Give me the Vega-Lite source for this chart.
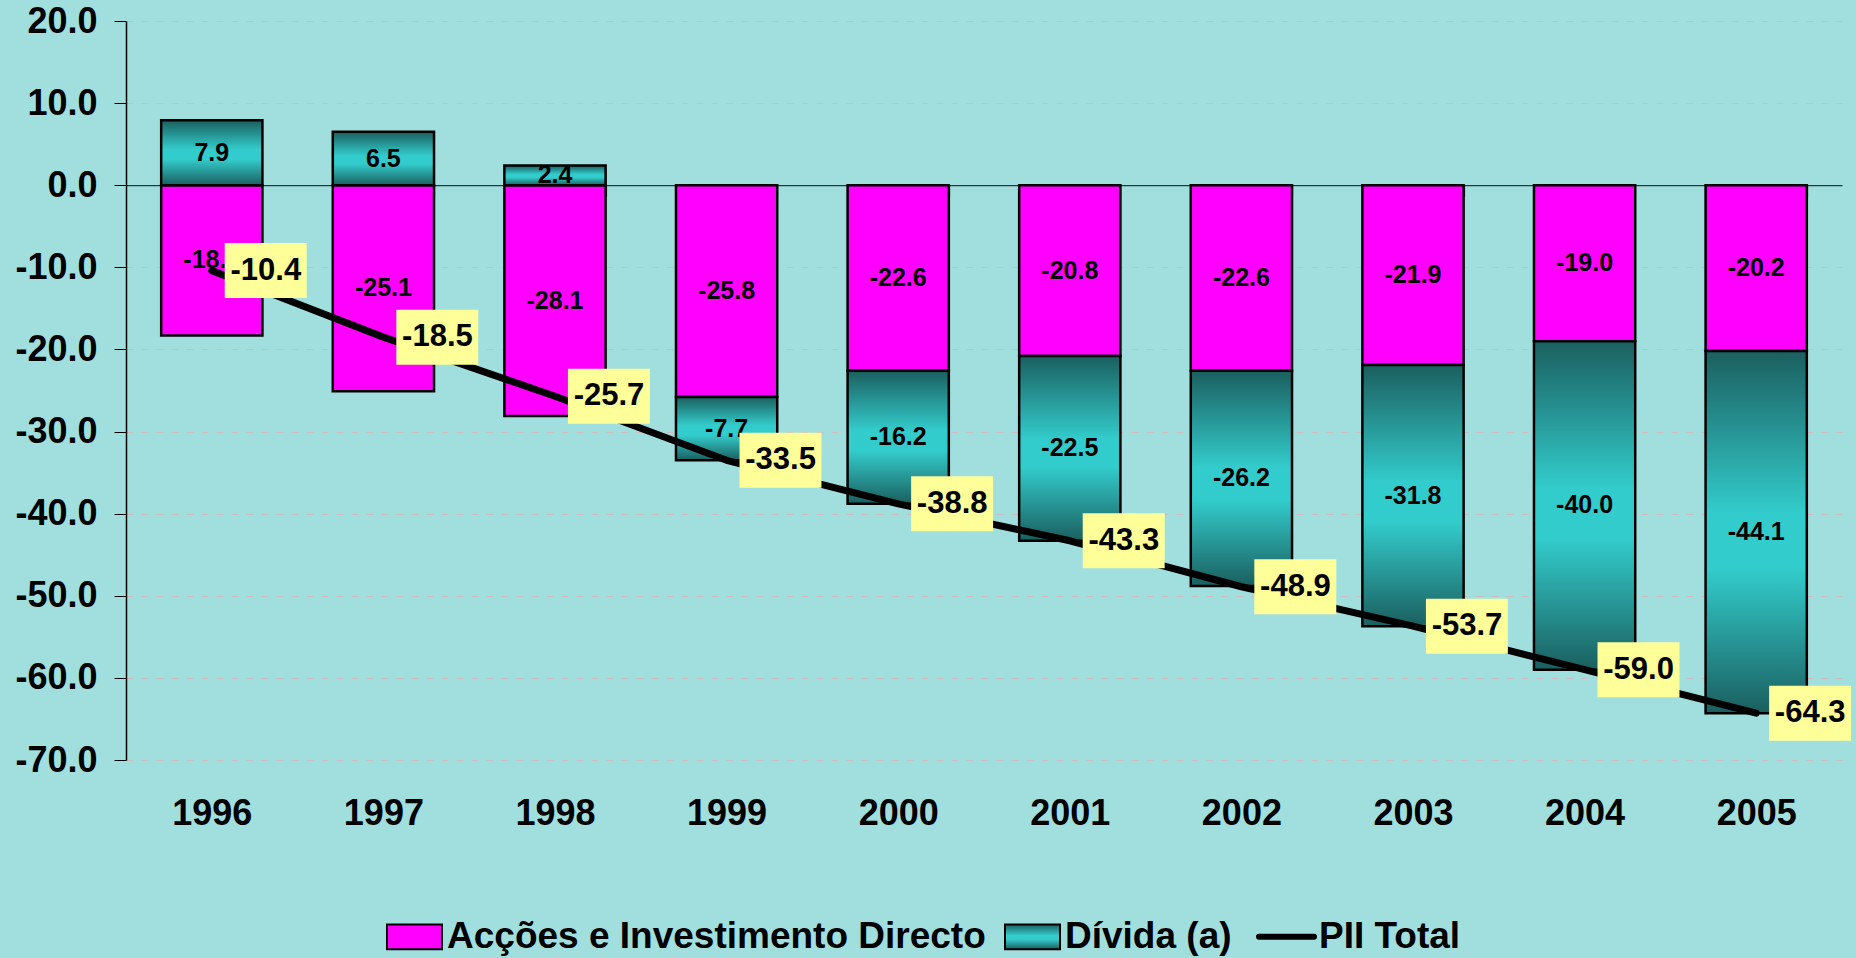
{
  "$schema": "https://vega.github.io/schema/vega-lite/v6.json",
  "width": 1716,
  "height": 739,
  "autosize": {"type": "none"},
  "padding": {"left": 126, "top": 21, "right": 14, "bottom": 198},
  "background": "#A1DFDF",
  "config": {
    "view": {"stroke": null},
    "font": "Liberation Sans",
    "locale": {"number": {"decimal": ".", "thousands": ",", "grouping": [3], "currency": ["", ""], "minus": "-"}},
    "axis": {"labelFont": "Liberation Sans", "labelFontWeight": "bold", "labelColor": "#000000"}
  },
  "datasets": {
    "parts": [
      {"year": "1996", "series": "Acções e Investimento Directo", "value": -18.3},
      {"year": "1996", "series": "Dívida (a)", "value": 7.9},
      {"year": "1997", "series": "Acções e Investimento Directo", "value": -25.1},
      {"year": "1997", "series": "Dívida (a)", "value": 6.5},
      {"year": "1998", "series": "Acções e Investimento Directo", "value": -28.1},
      {"year": "1998", "series": "Dívida (a)", "value": 2.4},
      {"year": "1999", "series": "Acções e Investimento Directo", "value": -25.8},
      {"year": "1999", "series": "Dívida (a)", "value": -7.7},
      {"year": "2000", "series": "Acções e Investimento Directo", "value": -22.6},
      {"year": "2000", "series": "Dívida (a)", "value": -16.2},
      {"year": "2001", "series": "Acções e Investimento Directo", "value": -20.8},
      {"year": "2001", "series": "Dívida (a)", "value": -22.5},
      {"year": "2002", "series": "Acções e Investimento Directo", "value": -22.6},
      {"year": "2002", "series": "Dívida (a)", "value": -26.2},
      {"year": "2003", "series": "Acções e Investimento Directo", "value": -21.9},
      {"year": "2003", "series": "Dívida (a)", "value": -31.8},
      {"year": "2004", "series": "Acções e Investimento Directo", "value": -19.0},
      {"year": "2004", "series": "Dívida (a)", "value": -40.0},
      {"year": "2005", "series": "Acções e Investimento Directo", "value": -20.2},
      {"year": "2005", "series": "Dívida (a)", "value": -44.1}
    ],
    "total": [
      {"year": "1996", "total": -10.4},
      {"year": "1997", "total": -18.5},
      {"year": "1998", "total": -25.7},
      {"year": "1999", "total": -33.5},
      {"year": "2000", "total": -38.8},
      {"year": "2001", "total": -43.3},
      {"year": "2002", "total": -48.9},
      {"year": "2003", "total": -53.7},
      {"year": "2004", "total": -59.0},
      {"year": "2005", "total": -64.3}
    ]
  },
  "encoding": {
    "x": {
      "field": "year",
      "type": "nominal",
      "scale": {"paddingInner": 0.41, "paddingOuter": 0.205},
      "axis": {
        "title": null,
        "orient": "bottom",
        "offset": -574.8,
        "domainColor": "#333333",
        "domainWidth": 1.2,
        "tickBand": "extent",
        "tickSize": 11,
        "tickColor": "#333333",
        "tickWidth": 1.2,
        "labelFontSize": 36,
        "labelPadding": 600,
        "labelAngle": 0,
        "grid": false,
        "zindex": 0
      }
    }
  },
  "layer": [
    {
      "data": {"name": "parts"},
      "mark": {"type": "bar", "stroke": "#000000", "strokeWidth": 2.5},
      "encoding": {
        "y": {
          "field": "value",
          "type": "quantitative",
          "stack": "zero",
          "scale": {"domain": [-70, 20], "nice": false, "zero": false},
          "axis": {"title": null, "values": [20, 10, 0, -10, -20, -30, -40, -50, -60, -70], "format": ".1f", "labelFontSize": 36, "labelPadding": 17, "tickSize": 12, "tickColor": "#000000", "domainColor": "#000000", "domainWidth": 1.5, "grid": true, "gridColor": "#CDBDBD", "gridDash": [7, 8], "gridWidth": 1}
        },
        "color": {
          "field": "series",
          "type": "nominal",
          "scale": {
            "domain": ["Acções e Investimento Directo", "Dívida (a)", "PII Total"],
            "range": [
              "#FF00FF",
              {"expr": "{gradient: 'linear', x1: 0, y1: 0, x2: 0, y2: 1, stops: [{offset: 0, color: '#1B5F5F'}, {offset: 0.45, color: '#33CCCC'}, {offset: 0.6, color: '#33CCCC'}, {offset: 1, color: '#1B5F5F'}]}"},
              "#000000"
            ]
          },
          "legend": {
            "title": null,
            "orient": "none",
            "legendX": 270,
            "legendY": 897,
            "direction": "horizontal",
            "labelFont": "Liberation Sans",
            "labelFontSize": 37,
            "labelFontWeight": "bold",
            "labelColor": "#000000",
            "labelLimit": 0,
            "labelOffset": 14,
            "columnPadding": 15,
            "symbolSize": 3025,
            "symbolStrokeColor": "#000000",
            "symbolStrokeWidth": 2,
            "encode": {
              "symbols": {
                "update": {
                  "shape": {"signal": "datum.value === 'PII Total' ? 'stroke' : 'M-1,-0.45L1,-0.45L1,0.45L-1,0.45Z'"},
                  "strokeWidth": {"signal": "datum.value === 'PII Total' ? 6 : 2"},
                  "stroke": {"value": "#000000"},
                  "strokeCap": {"value": "round"},
                  "opacity": {"value": 1}
                }
              }
            }
          }
        },
        "order": {"field": "series", "sort": "ascending"}
      }
    },
    {
      "data": {"name": "parts"},
      "mark": {"type": "text", "fontSize": 25, "fontWeight": "bold", "color": "#000000", "baseline": "middle", "align": "center"},
      "encoding": {
        "y": {
          "field": "value", "type": "quantitative", "stack": "zero", "bandPosition": 0.5,
          "scale": {"domain": [-70, 20], "nice": false, "zero": false},
          "axis": {"title": null, "values": [20, 10, 0, -10, -20, -30, -40, -50, -60, -70], "format": ".1f", "labelFontSize": 36, "labelPadding": 17, "tickSize": 12, "tickColor": "#000000", "domainColor": "#000000", "domainWidth": 1.5, "grid": true, "gridColor": "#CDBDBD", "gridDash": [7, 8], "gridWidth": 1}
        },
        "detail": {"field": "series"},
        "order": {"field": "series", "sort": "ascending"},
        "text": {"field": "value", "type": "quantitative", "format": ".1f"}
      }
    },
    {
      "data": {"name": "total"},
      "mark": {"type": "line", "color": "#000000", "strokeWidth": 7, "strokeCap": "round", "strokeJoin": "round"},
      "encoding": {
        "y": {
          "field": "total", "type": "quantitative",
          "scale": {"domain": [-70, 20], "nice": false, "zero": false},
          "axis": {"title": null, "values": [20, 10, 0, -10, -20, -30, -40, -50, -60, -70], "format": ".1f", "labelFontSize": 36, "labelPadding": 17, "tickSize": 12, "tickColor": "#000000", "domainColor": "#000000", "domainWidth": 1.5, "grid": true, "gridColor": "#CDBDBD", "gridDash": [7, 8], "gridWidth": 1}
        }
      }
    },
    {
      "data": {"name": "total"},
      "mark": {"type": "point", "shape": "M0.47,-1L3.45,-1L3.45,1L0.47,1Z", "size": 3025, "filled": true, "color": "#FFFF99", "opacity": 1, "strokeWidth": 0},
      "encoding": {
        "y": {
          "field": "total", "type": "quantitative",
          "scale": {"domain": [-70, 20], "nice": false, "zero": false},
          "axis": {"title": null, "values": [20, 10, 0, -10, -20, -30, -40, -50, -60, -70], "format": ".1f", "labelFontSize": 36, "labelPadding": 17, "tickSize": 12, "tickColor": "#000000", "domainColor": "#000000", "domainWidth": 1.5, "grid": true, "gridColor": "#CDBDBD", "gridDash": [7, 8], "gridWidth": 1}
        }
      }
    },
    {
      "data": {"name": "total"},
      "mark": {"type": "text", "dx": 54, "fontSize": 31, "fontWeight": "bold", "color": "#000000", "baseline": "middle", "align": "center"},
      "encoding": {
        "y": {
          "field": "total", "type": "quantitative",
          "scale": {"domain": [-70, 20], "nice": false, "zero": false},
          "axis": {"title": null, "values": [20, 10, 0, -10, -20, -30, -40, -50, -60, -70], "format": ".1f", "labelFontSize": 36, "labelPadding": 17, "tickSize": 12, "tickColor": "#000000", "domainColor": "#000000", "domainWidth": 1.5, "grid": true, "gridColor": "#CDBDBD", "gridDash": [7, 8], "gridWidth": 1}
        },
        "text": {"field": "total", "type": "quantitative", "format": ".1f"}
      }
    }
  ]
}
